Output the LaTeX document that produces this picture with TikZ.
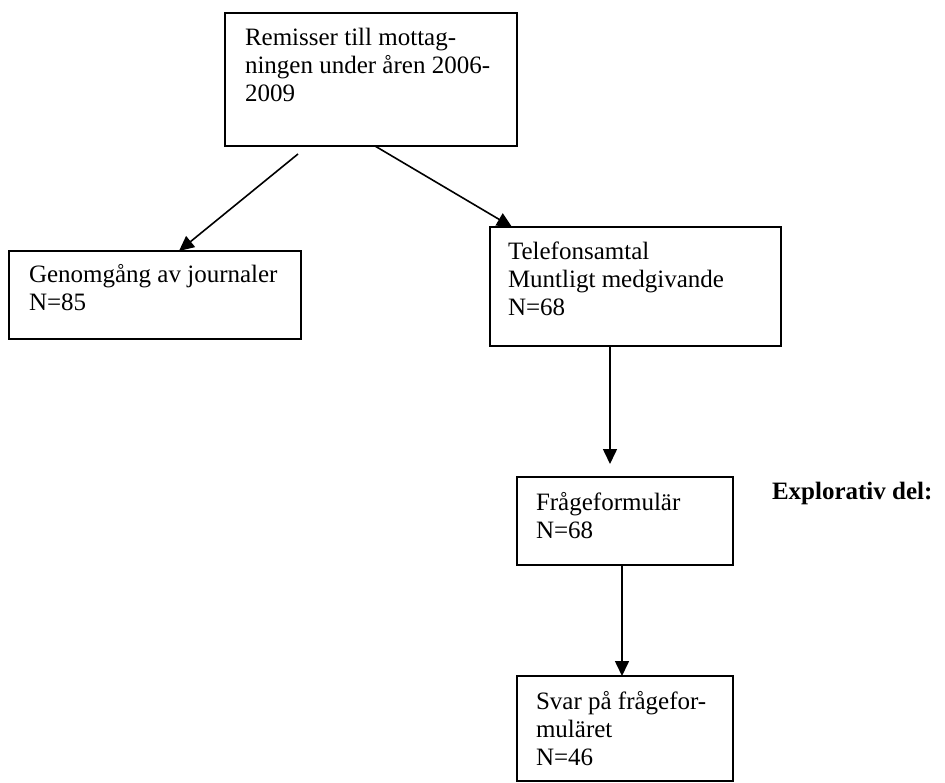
\documentclass[tikz,border=0pt]{standalone}
\usepackage{fontspec}
\setmainfont{Liberation Serif}
\usetikzlibrary{arrows.meta}
\begin{document}
\begin{tikzpicture}[x=1pt,y=-1pt,
  boxshape/.style={draw=black,line width=1.8pt,rectangle,inner sep=0pt,outer sep=0pt,anchor=north west},
  txt/.style={inner sep=0pt,outer sep=0pt,anchor=base west,font=\fontsize{25}{28}\selectfont},
  arr/.style={draw=black,line width=1.6pt,-{Triangle[length=15pt,width=14pt]}}]
\useasboundingbox[fill=white] (0,0) rectangle (945,783);
% boxes
\node[boxshape,minimum width=292pt,minimum height=133pt] (b1) at (225,13) {};
\node[boxshape,minimum width=292pt,minimum height=88pt] (b2) at (9,251) {};
\node[boxshape,minimum width=291pt,minimum height=119pt] (b3) at (490,227) {};
\node[boxshape,minimum width=216pt,minimum height=88pt] (b4) at (517,477) {};
\node[boxshape,minimum width=216pt,minimum height=105pt] (b5) at (517,676) {};
% texts
\node[txt] (t1) at (245,46) {\parbox[t]{270pt}{\fontsize{25}{28}\selectfont Remisser till mottag-\\ningen under åren 2006-\\2009}};
\node[txt] (t2) at (29,283) {\parbox[t]{270pt}{\fontsize{25}{28}\selectfont Genomgång av journaler\\N=85}};
\node[txt] (t3) at (508,260) {\parbox[t]{270pt}{\fontsize{25}{28}\selectfont Telefonsamtal\\Muntligt medgivande\\N=68}};
\node[txt] (t4) at (536,510) {\parbox[t]{200pt}{\fontsize{25}{28}\selectfont Frågeformulär\\N=68}};
\node[txt] (t5) at (536,709) {\parbox[t]{200pt}{\fontsize{25}{28}\selectfont Svar på frågefor-\\muläret\\N=46}};
\node[txt,font=\fontsize{25}{28}\selectfont\bfseries] (t6) at (772,499) {Explorativ del:};
% connectors
\draw[arr] ([shift={(73,8)}]b1.south west) -- ([shift={(170,0)}]b2.north west);
\draw[arr] ([shift={(150,0)}]b1.south west) -- ([shift={(22,0)}]b3.north west);
\draw[arr] ([shift={(120,0)}]b3.south west) -- ([shift={(93,-13)}]b4.north west);
\draw[arr] ([shift={(105,0)}]b4.south west) -- ([shift={(105,0)}]b5.north west);
\end{tikzpicture}
\end{document}
